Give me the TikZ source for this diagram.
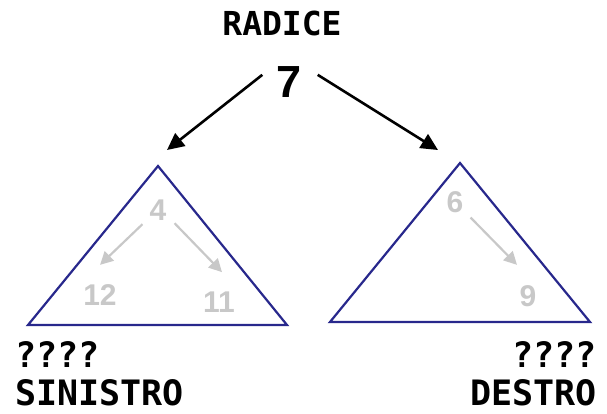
\documentclass[tikz,border=0pt]{standalone}
\usepackage{fontspec}
\usepackage{tikz}
\usetikzlibrary{arrows.meta}
\newfontfamily\labfont{DejaVu Sans Mono}
\newfontfamily\numfont{Liberation Sans}
\definecolor{trinavy}{RGB}{40,40,140}
\definecolor{keygray}{RGB}{200,200,200}

\begin{document}
\begin{tikzpicture}[
  x=1pt, y=-1pt,
  lab/.style={font=\labfont\bfseries\fontsize{35}{38}\selectfont, inner sep=0pt},
  rootlab/.style={font=\labfont\bfseries\fontsize{33}{36}\selectfont, inner sep=0pt},
  rootkey/.style={font=\numfont\bfseries\fontsize{45}{50}\selectfont, inner sep=0pt},
  key/.style={font=\numfont\bfseries\fontsize{30}{34}\selectfont, text=keygray, inner sep=0pt},
  subtree/.style={draw=trinavy, line width=2.2pt, line join=miter},
  fl/.style={-{Triangle[length=17pt, width=16pt]}, line width=2.6pt},
  gl/.style={-{Triangle[length=13pt, width=13pt]}, line width=2.2pt, draw=keygray}
]
\useasboundingbox (0,0) rectangle (607,413);

% ---------- root ----------
\node[rootlab, anchor=base] (rad) at (282,35) {RADICE};
\node[rootkey, anchor=base] (seven) at (289,97) {7};

% ---------- left subtree ----------
\coordinate (ltop) at (158,166);
\coordinate (lend) at (167,150);
\draw[subtree] (ltop) -- (28,325) -- (287,325) -- cycle;
\node[key, anchor=base] (n4)  at (158,220) {4};
\node[key, anchor=base] (n12) at (100,305) {12};
\node[key, anchor=base] (n11) at (219,312) {11};
\draw[gl] ([shift={(-7pt,-4pt)}]n4.south west) -- ([yshift=19pt]n12.north);
\draw[gl] ([shift={(8pt,-3pt)}]n4.south east) -- ([shift={(3pt,19pt)}]n11.north);

% ---------- right subtree ----------
\coordinate (rtop) at (460,163);
\coordinate (rend) at (438,150);
\draw[subtree] (rtop) -- (330,322) -- (590,322) -- cycle;
\node[key, anchor=base] (n6) at (455,212) {6};
\node[key, anchor=base] (n9) at (528,306) {9};
\draw[gl] ([shift={(7pt,-5pt)}]n6.south east) -- ([shift={(-11pt,20pt)}]n9.north);

% ---------- root to subtrees ----------
\draw[fl] ([shift={(-14pt,-9pt)}]seven.north west) -- (lend);
\draw[fl] ([shift={(16pt,-9pt)}]seven.north east) -- (rend);

% ---------- captions ----------
\node[lab, anchor=base west] (lq)  at (15,367) {????};
\node[lab, anchor=base west] (lsx) at (15,405) {SINISTRO};
\node[lab, anchor=base east] (rq)  at (597,367) {????};
\node[lab, anchor=base east] (rdx) at (597,405) {DESTRO};

\end{tikzpicture}
\end{document}
